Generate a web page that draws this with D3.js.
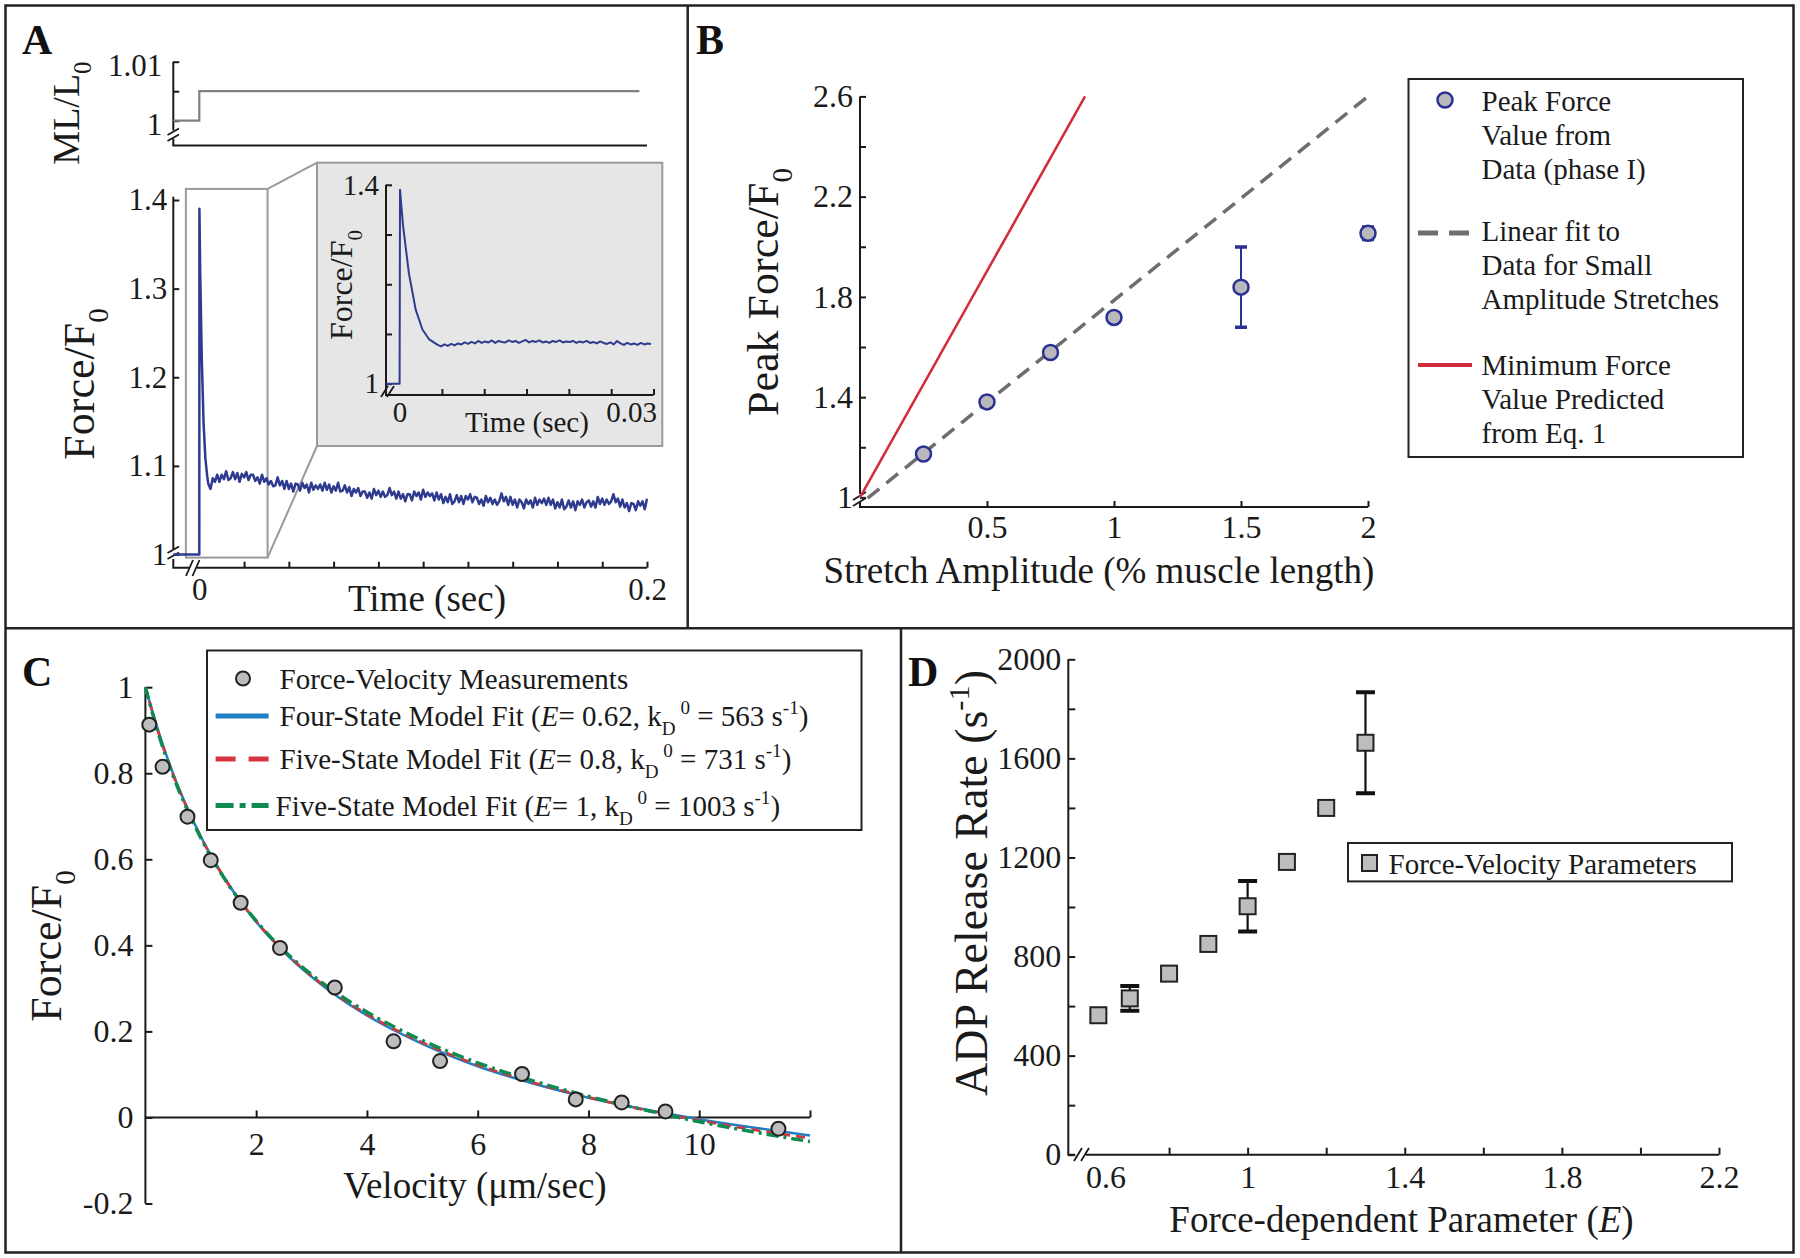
<!DOCTYPE html>
<html>
<head>
<meta charset="utf-8">
<script src="https://cdn.jsdelivr.net/npm/d3@7"></script>
<style>
html,body{margin:0;padding:0;background:#fff;}
svg{display:block;}
</style>
</head>
<body>
<svg id="chart" width="1800" height="1258"></svg>
<script>
// ================= DATA =================
// ---- Panel A: muscle length step and force transient ----
const stepTime = [-0.0116, 0, 0, 0.1966];
const stepLength = [1, 1, 1.005, 1.005];
const riseTime = [-0.0116, 0, 0.00005, 0.0004, 0.0011, 0.0019, 0.0027, 0.0035];
const riseForce = [1, 1, 1.39, 1.319, 1.222, 1.149, 1.109, 1.089];
const traceStart = 0.004;
const traceStep = 0.001;
const forceTrace = [
1.080,1.074,1.086,1.082,1.090,1.082,1.090,1.085,1.094,1.084,
1.086,1.093,1.085,1.092,1.082,1.091,1.087,1.093,1.084,1.090,
1.090,1.083,1.087,1.080,1.090,1.082,1.086,1.079,1.083,1.077,
1.078,1.087,1.078,1.083,1.074,1.083,1.074,1.080,1.071,1.080,
1.079,1.072,1.081,1.075,1.079,1.070,1.081,1.073,1.078,1.074,
1.079,1.072,1.081,1.073,1.079,1.070,1.077,1.072,1.081,1.071,
1.072,1.078,1.070,1.076,1.066,1.074,1.070,1.075,1.066,1.071,
1.071,1.064,1.070,1.063,1.074,1.067,1.072,1.065,1.071,1.065,
1.067,1.075,1.067,1.071,1.063,1.071,1.063,1.068,1.060,1.068,
1.068,1.061,1.071,1.066,1.070,1.062,1.073,1.065,1.070,1.066,
1.069,1.061,1.070,1.062,1.068,1.058,1.065,1.059,1.068,1.057,
1.060,1.067,1.059,1.066,1.057,1.066,1.062,1.068,1.059,1.065,
1.064,1.057,1.062,1.055,1.066,1.059,1.064,1.057,1.062,1.056,
1.060,1.069,1.060,1.065,1.056,1.065,1.056,1.062,1.053,1.062,
1.059,1.052,1.062,1.057,1.061,1.053,1.064,1.056,1.062,1.058,
1.063,1.056,1.064,1.056,1.062,1.052,1.059,1.053,1.062,1.051,
1.054,1.061,1.053,1.060,1.050,1.060,1.056,1.062,1.053,1.059,
1.061,1.054,1.060,1.053,1.065,1.057,1.063,1.056,1.062,1.057,
1.060,1.068,1.059,1.063,1.054,1.062,1.053,1.058,1.049,1.058,
1.057,1.050,1.060,1.055,1.060,1.051,1.063];
const insetStart = 0.0045;
const insetStep = 0.0004;
const insetTrace = [
1.078,1.075,1.079,1.076,1.080,1.077,1.081,1.079,1.083,1.080,
1.084,1.081,1.086,1.082,1.085,1.083,1.087,1.082,1.086,1.084,
1.083,1.087,1.084,1.086,1.082,1.085,1.088,1.083,1.086,1.084,
1.087,1.083,1.085,1.082,1.086,1.084,1.087,1.083,1.085,1.084,
1.086,1.082,1.085,1.083,1.086,1.082,1.084,1.081,1.085,1.082,
1.080,1.083,1.079,1.086,1.081,1.078,1.082,1.079,1.081,1.078,
1.082,1.079,1.081,1.080];
const aTopTicks = [1, 1.005, 1.01];
const aTopLabels = [1, 1.01];
const aTicksY = [1, 1.1, 1.2, 1.3, 1.4];
const aTicksX = [0.02, 0.04, 0.06, 0.08, 0.1, 0.12, 0.14, 0.16, 0.18, 0.2];
const aLabelsX = [0, 0.2];
const insetTicksY = [1, 1.1, 1.2, 1.3, 1.4];
const insetLabelsY = [1, 1.4];
const insetTicksX = [0.005, 0.01, 0.015, 0.02, 0.025, 0.03];
const insetLabelsX = [0, 0.03];

// ---- Panel B: peak force vs stretch amplitude ----
const stretchAmp = [0.25, 0.5, 0.75, 1, 1.5, 2];
const peakForce = [1.173, 1.381, 1.578, 1.718, 1.839, 2.054];
const peakForceErr = [0, 0, 0, 0, 0.16, 0.025];
const linearFitX = [0.03, 2];
const linearFitY = [0.997, 2.6];
const minForceX = [0, 0.886];
const minForceY = [1, 2.6];
const bTicksY = [1, 1.2, 1.4, 1.6, 1.8, 2.0, 2.2, 2.4, 2.6];
const bLabelsY = [1, 1.4, 1.8, 2.2, 2.6];
const bTicksX = [0.5, 1, 1.5, 2];
const bLegendText = [
  ["Peak Force", "Value from", "Data (phase I)"],
  ["Linear fit to", "Data for Small", "Amplitude Stretches"],
  ["Minimum Force", "Value Predicted", "from Eq. 1"]];

// ---- Panel C: force-velocity ----
const velocity = [0.07, 0.31, 0.76, 1.18, 1.72, 2.43, 3.42, 4.48, 5.32, 6.80, 7.77, 8.60, 9.39, 11.43];
const forceFV = [0.913, 0.815, 0.699, 0.598, 0.499, 0.394, 0.302, 0.177, 0.131, 0.101, 0.042, 0.035, 0.014, -0.026];
const fitVelocity = [0, 0.25, 0.5, 0.75, 1, 1.5, 2, 2.5, 3, 3.5, 4, 5, 6, 7, 8, 9, 10, 11, 12];
const fourStateFit = [1.0, 0.891, 0.799, 0.721, 0.653, 0.542, 0.455, 0.385, 0.327, 0.278, 0.237, 0.171, 0.119, 0.079, 0.046, 0.019, -0.004, -0.024, -0.042];
const fiveStateFitE08 = [1.0, 0.889, 0.797, 0.720, 0.652, 0.542, 0.456, 0.386, 0.329, 0.281, 0.240, 0.174, 0.122, 0.081, 0.047, 0.018, -0.007, -0.029, -0.048];
const fiveStateFitE1 = [1.0, 0.886, 0.794, 0.717, 0.650, 0.541, 0.457, 0.388, 0.332, 0.285, 0.245, 0.179, 0.127, 0.085, 0.049, 0.018, -0.010, -0.034, -0.056];
const cTicksY = [-0.2, 0, 0.2, 0.4, 0.6, 0.8, 1];
const cTicksX = [2, 4, 6, 8, 10, 12];
const cLabelsX = [2, 4, 6, 8, 10];
const cLegendE = ["0.62", "0.8", "1"];
const cLegendK = ["563", "731", "1003"];
const cLegendModel = ["Four-State Model Fit (", "Five-State Model Fit (", "Five-State Model Fit ("];

// ---- Panel D: ADP release rate vs E ----
const paramE = [0.62, 0.7, 0.8, 0.9, 1.0, 1.1, 1.2, 1.3];
const adpRate = [563, 631, 731, 851, 1003, 1182, 1400, 1663];
const adpErr = [0, 50, 0, 0, 102, 0, 0, 204];
const dTicksY = [0, 200, 400, 600, 800, 1000, 1200, 1400, 1600, 1800, 2000];
const dLabelsY = [0, 400, 800, 1200, 1600, 2000];
const dTicksX = [0.8, 1, 1.2, 1.4, 1.6, 1.8, 2, 2.2];
const dLabelsX = [0.6, 1, 1.4, 1.8, 2.2];

// ================= DRAWING =================
const SERIF = "'Liberation Serif','Times New Roman',serif";
const INK = "#1a1a1a";
const svg = d3.select("#chart");
svg.append("rect").attr("width", 1800).attr("height", 1258).attr("fill", "#fff");
const defs = svg.append("defs");

function styleAxis(g, fs) {
  g.attr("font-family", null).attr("font-size", null);
  g.select(".domain").remove();
  g.selectAll("text").attr("font-family", SERIF).attr("font-size", fs).attr("fill", INK);
  g.selectAll("line").attr("stroke", INK).attr("stroke-width", 2);
  return g;
}
function yTicks(parent, scale, x, vals, len) {
  return styleAxis(parent.append("g").attr("transform", `translate(${x},0)`)
    .call(d3.axisLeft(scale).tickValues(vals).tickSize(-len).tickSizeOuter(0).tickFormat("")), 10);
}
function yLabels(parent, scale, x, vals, pad, fs) {
  return styleAxis(parent.append("g").attr("transform", `translate(${x},0)`)
    .call(d3.axisLeft(scale).tickValues(vals).tickSize(0).tickPadding(pad).tickFormat(d => String(d))), fs);
}
function xTicks(parent, scale, y, vals, len) {
  return styleAxis(parent.append("g").attr("transform", `translate(0,${y})`)
    .call(d3.axisBottom(scale).tickValues(vals).tickSize(-len).tickSizeOuter(0).tickFormat("")), 10);
}
function xLabels(parent, scale, y, vals, pad, fs) {
  return styleAxis(parent.append("g").attr("transform", `translate(0,${y})`)
    .call(d3.axisBottom(scale).tickValues(vals).tickSize(0).tickPadding(pad).tickFormat(d => String(d))), fs);
}
function pathLine(parent, d, color, w) {
  return parent.append("path").attr("d", d).attr("fill", "none").attr("stroke", color || INK)
    .attr("stroke-width", w || 2);
}
function breakMarks(parent, pairs) {
  pairs.forEach(p => parent.append("line").attr("x1", p[0]).attr("y1", p[1]).attr("x2", p[2]).attr("y2", p[3])
    .attr("stroke", INK).attr("stroke-width", 1.8));
}
function rich(sel, parts, size) {
  sel.style("white-space", "pre");
  let cur = 0;
  parts.forEach(p => {
    const target = p.sub ? size * 0.32 : (p.sup ? -size * 0.4 : 0);
    const ts = sel.append("tspan").attr("dy", target - cur)
      .attr("font-size", (p.sub || p.sup) ? size * 0.66 : size).text(p.t);
    if (p.i) ts.attr("font-style", "italic");
    cur = target;
  });
  return sel;
}
function rotLabel(parent, x, y, parts, size, family) {
  const t = parent.append("text").attr("transform", `translate(${x},${y}) rotate(-90)`)
    .attr("text-anchor", "middle").attr("font-family", family || SERIF).attr("fill", INK);
  return rich(t, parts, size);
}
function hLabel(parent, x, y, parts, size, anchor) {
  const t = parent.append("text").attr("x", x).attr("y", y)
    .attr("text-anchor", anchor || "middle").attr("font-family", SERIF).attr("fill", INK);
  return rich(t, parts, size);
}

// ---- frame ----
const frame = svg.append("g");
frame.append("rect").attr("x", 5.5).attr("y", 5.5).attr("width", 1788).attr("height", 1247)
  .attr("fill", "none").attr("stroke", "#222").attr("stroke-width", 2.5);
pathLine(frame, "M687.7,5.5V628.3", "#222", 2.5);
pathLine(frame, "M5.5,628.3H1793.5", "#222", 2.5);
pathLine(frame, "M901,628.3V1252.5", "#222", 2.5);
[["A", 22, 54], ["B", 696, 54], ["C", 22, 686], ["D", 908, 686]].forEach(l =>
  svg.append("text").attr("x", l[1]).attr("y", l[2]).attr("font-family", SERIF).attr("font-weight", "bold")
    .attr("font-size", 42).attr("fill", "#111").text(l[0]));

// ================= PANEL A =================
const gA = svg.append("g");
const xA = d3.scaleLinear().domain([0, 0.2]).range([199.3, 647]);
const yTop = d3.scaleLinear().domain([1, 1.01]).range([120.7, 61.7]);
const yA = d3.scaleLinear().domain([1, 1.4]).range([554.5, 200]);

// top: muscle length
pathLine(gA, "M173.3,61.7V130.5");
pathLine(gA, "M173.3,138.5V145.4H647");
breakMarks(gA, [[167.5, 135, 179, 128.5], [167.5, 141, 179, 134.5]]);
yTicks(gA, yTop, 173.3, aTopTicks, 6);
yLabels(gA, yTop, 173.3, aTopLabels, 11, 31).selectAll("text").attr("dy", "0.45em");
const stepPts = stepTime.map((t, i) => [t, stepLength[i]]);
gA.append("path").datum(stepPts).attr("d", d3.line().x(d => xA(d[0])).y(d => yTop(d[1])))
  .attr("fill", "none").attr("stroke", "#808080").attr("stroke-width", 2.2);
rotLabel(gA, 79, 113, [{t: "ML/L"}, {t: "0", sub: true}], 38);

// main force trace axes
pathLine(gA, "M173.3,196.7V549");
pathLine(gA, "M173.3,559V567.7H189");
pathLine(gA, "M197,567.7H647");
breakMarks(gA, [[167.5, 553, 179, 546.5], [167.5, 559, 179, 552.5], [186, 576, 193, 560], [192.5, 576, 199.5, 560]]);
yTicks(gA, yA, 173.3, aTicksY, 6);
yLabels(gA, yA, 173.3, aTicksY, 6, 31);
xTicks(gA, xA, 567.7, aTicksX, 6);
xLabels(gA, xA, 567.7, aLabelsX, 10, 31);
rotLabel(gA, 94, 384, [{t: "Force/F"}, {t: "0", sub: true}], 44);
hLabel(gA, 427, 611, [{t: "Time (sec)"}], 37);

// zoom rectangle + connectors + inset box
const rx0 = xA(-0.006), rx1 = xA(0.0305), ry0 = yA(1.4125), ry1 = yA(0.9965);
gA.append("rect").attr("x", rx0).attr("y", ry0).attr("width", rx1 - rx0).attr("height", ry1 - ry0)
  .attr("fill", "none").attr("stroke", "#9a9a9a").attr("stroke-width", 2);
const insetBox = {x0: 317, y0: 162.7, x1: 662.3, y1: 446};
pathLine(gA, `M${rx1},${ry0}L${insetBox.x0},${insetBox.y0}`, "#9a9a9a", 2);
pathLine(gA, `M${rx1},${ry1}L${insetBox.x0},${insetBox.y1}`, "#9a9a9a", 2);

// main trace
const tracePts = riseTime.map((t, i) => [t, riseForce[i]])
  .concat(forceTrace.map((v, i) => [traceStart + i * traceStep, v]));
gA.append("path").datum(tracePts).attr("d", d3.line().x(d => xA(d[0])).y(d => yA(d[1])))
  .attr("fill", "none").attr("stroke", "#2e3b8e").attr("stroke-width", 2.5).attr("stroke-linejoin", "round");

// inset
const gI = svg.append("g");
gI.append("rect").attr("x", insetBox.x0).attr("y", insetBox.y0)
  .attr("width", insetBox.x1 - insetBox.x0).attr("height", insetBox.y1 - insetBox.y0)
  .attr("fill", "#e6e6e6").attr("stroke", "#9a9a9a").attr("stroke-width", 2);
const xI = d3.scaleLinear().domain([0, 0.03]).range([399.6, 653.5]);
const yI = d3.scaleLinear().domain([1, 1.4]).range([383.7, 184.8]);
pathLine(gI, "M386,184.8V395H653.5");
breakMarks(gI, [[381, 397, 388, 386], [387, 397, 394, 386]]);
yTicks(gI, yI, 386, insetTicksY, 6);
yLabels(gI, yI, 386, insetLabelsY, 7, 29);
xTicks(gI, xI, 395, insetTicksX, 6);
const inX = xLabels(gI, xI, 395, insetLabelsX, 6, 29);
inX.selectAll(".tick text").filter(d => d === 0.03).attr("text-anchor", "end").attr("dx", 3);
defs.append("clipPath").attr("id", "insetClip").append("rect").attr("x", 386).attr("y", 170)
  .attr("width", 270).attr("height", 225);
const insetPts = riseTime.map((t, i) => [t, riseForce[i]])
  .concat(insetTrace.map((v, i) => [insetStart + i * insetStep, v]));
gI.append("path").datum(insetPts).attr("clip-path", "url(#insetClip)")
  .attr("d", d3.line().x(d => xI(d[0])).y(d => yI(d[1])))
  .attr("fill", "none").attr("stroke", "#2e3b8e").attr("stroke-width", 2).attr("stroke-linejoin", "round");
rotLabel(gI, 352, 285, [{t: "Force/F"}, {t: "0", sub: true}], 32);
hLabel(gI, 527, 432, [{t: "Time (sec)"}], 29);

// ================= PANEL B =================
const gB = svg.append("g");
const xB = d3.scaleLinear().domain([0, 2]).range([860, 1368]);
const yB = d3.scaleLinear().domain([1, 2.6]).range([497.4, 96.4]);
pathLine(gB, "M860,96.4V494");
pathLine(gB, "M860,502V507H1368");
breakMarks(gB, [[853, 500, 866, 492], [853, 506, 866, 498]]);
yTicks(gB, yB, 860, bTicksY, 6);
yLabels(gB, yB, 860, bLabelsY, 7, 32);
xTicks(gB, xB, 507, bTicksX, 6);
xLabels(gB, xB, 507, bTicksX, 8, 32);

const lineB = d3.line().x(d => xB(d[0])).y(d => yB(d[1]));
gB.append("path").datum(minForceX.map((x, i) => [x, minForceY[i]])).attr("d", lineB)
  .attr("fill", "none").attr("stroke", "#d22b3b").attr("stroke-width", 2.5);
gB.append("path").datum(linearFitX.map((x, i) => [x, linearFitY[i]])).attr("d", lineB)
  .attr("fill", "none").attr("stroke", "#6e6e6e").attr("stroke-width", 3.5).attr("stroke-dasharray", "15,9");
const BLUE_DOT = "#2b3191";
stretchAmp.forEach((a, i) => {
  const e = peakForceErr[i];
  if (e > 0) {
    const x = xB(a), y0 = yB(peakForce[i] - e), y1 = yB(peakForce[i] + e);
    pathLine(gB, `M${x},${y0}V${y1}`, BLUE_DOT, 2);
    pathLine(gB, `M${x - 6},${y0}H${x + 6}M${x - 6},${y1}H${x + 6}`, BLUE_DOT, 3.5);
  }
});
gB.selectAll("circle.pt").data(stretchAmp).enter().append("circle")
  .attr("cx", d => xB(d)).attr("cy", (d, i) => yB(peakForce[i])).attr("r", 7.5)
  .attr("fill", "#b9b9bd").attr("stroke", BLUE_DOT).attr("stroke-width", 2.5);
rotLabel(gB, 778, 292, [{t: "Peak Force/F"}, {t: "0", sub: true}], 44);
hLabel(gB, 1099, 583, [{t: "Stretch Amplitude (% muscle length)"}], 37);

// legend B
gB.append("rect").attr("x", 1408.5).attr("y", 79).attr("width", 334.5).attr("height", 378)
  .attr("fill", "#fff").attr("stroke", "#222").attr("stroke-width", 2);
gB.append("circle").attr("cx", 1445).attr("cy", 100).attr("r", 7.5)
  .attr("fill", "#b9b9bd").attr("stroke", BLUE_DOT).attr("stroke-width", 2.5);
pathLine(gB, "M1418,233H1469", "#6e6e6e", 5).attr("stroke-dasharray", "20,11");
pathLine(gB, "M1418,365H1472", "#d22b3b", 4);
const bLegBase = [110.5, 241, 375];
bLegendText.forEach((lines, k) => lines.forEach((s, j) =>
  gB.append("text").attr("x", 1481.5).attr("y", bLegBase[k] + j * 34).attr("font-family", SERIF)
    .attr("font-size", 29).attr("fill", INK).text(s)));

// ================= PANEL C =================
const gC = svg.append("g");
const xC = d3.scaleLinear().domain([0, 12]).range([145.4, 810]);
const yC = d3.scaleLinear().domain([-0.2, 1]).range([1203.5, 687.2]);
pathLine(gC, `M145.4,687.2V1203.5`);
pathLine(gC, `M145.4,${yC(0)}H810`);
yTicks(gC, yC, 145.4, cTicksY, 7);
yLabels(gC, yC, 145.4, cTicksY, 12, 32);
xTicks(gC, xC, yC(0), cTicksX, 7);
xLabels(gC, xC, yC(0), cLabelsX, 15, 32);

const COL_BLUE = "#1f7fc4", COL_RED = "#d6343f", COL_GREEN = "#0e8b50";
const lineC = d3.line().x(d => xC(d[0])).y(d => yC(d[1])).curve(d3.curveMonotoneX);
gC.append("path").datum(fitVelocity.map((v, i) => [v, fourStateFit[i]])).attr("d", lineC)
  .attr("fill", "none").attr("stroke", COL_BLUE).attr("stroke-width", 2.5);
gC.append("path").datum(fitVelocity.map((v, i) => [v, fiveStateFitE08[i]])).attr("d", lineC)
  .attr("fill", "none").attr("stroke", COL_RED).attr("stroke-width", 2.8).attr("stroke-dasharray", "9,6");
gC.append("path").datum(fitVelocity.map((v, i) => [v, fiveStateFitE1[i]])).attr("d", lineC)
  .attr("fill", "none").attr("stroke", COL_GREEN).attr("stroke-width", 3.5).attr("stroke-dasharray", "12,5,3,5");
gC.selectAll("circle.pt").data(velocity).enter().append("circle")
  .attr("cx", d => xC(d)).attr("cy", (d, i) => yC(forceFV[i])).attr("r", 7)
  .attr("fill", "#bdbdbd").attr("stroke", "#222").attr("stroke-width", 2);
rotLabel(gC, 61, 946, [{t: "Force/F"}, {t: "0", sub: true}], 44);
hLabel(gC, 475, 1198, [{t: "Velocity (μm/sec)"}], 37);

// legend C
gC.append("rect").attr("x", 207).attr("y", 650.5).attr("width", 654.5).attr("height", 179.5)
  .attr("fill", "#fff").attr("stroke", "#222").attr("stroke-width", 2);
const cRowY = [678.5, 716, 759, 805.5];
gC.append("circle").attr("cx", 243).attr("cy", cRowY[0]).attr("r", 7)
  .attr("fill", "#bdbdbd").attr("stroke", "#222").attr("stroke-width", 2);
hLabel(gC, 279.5, cRowY[0] + 10, [{t: "Force-Velocity Measurements"}], 29, "start");
pathLine(gC, `M215.6,${cRowY[1]}H268.6`, COL_BLUE, 5);
pathLine(gC, `M215.6,${cRowY[2]}H268.6`, COL_RED, 5).attr("stroke-dasharray", "20,13");
pathLine(gC, `M215.6,${cRowY[3]}H268.6`, COL_GREEN, 5).attr("stroke-dasharray", "18,6,6,6");
[0, 1, 2].forEach(k => {
  hLabel(gC, k === 2 ? 275.5 : 279.5, cRowY[k + 1] + 10, [
    {t: cLegendModel[k]}, {t: "E", i: true}, {t: "= " + cLegendE[k] + ", k"}, {t: "D", sub: true},
    {t: " 0", sup: true}, {t: " = " + cLegendK[k] + " s"}, {t: "-1", sup: true}, {t: ")"}], 29, "start");
});

// ================= PANEL D =================
const gD = svg.append("g");
const xD = d3.scaleLinear().domain([0.6, 2.2]).range([1090.5, 1719]);
const yD = d3.scaleLinear().domain([0, 2000]).range([1154.7, 659.3]);
pathLine(gD, "M1068.3,659.3V1154.7H1075");
pathLine(gD, "M1086,1154.7H1719");
breakMarks(gD, [[1074, 1161, 1082, 1148], [1081, 1161, 1089, 1148]]);
yTicks(gD, yD, 1068.3, dTicksY, 7);
yLabels(gD, yD, 1068.3, dLabelsY, 7, 32);
xTicks(gD, xD, 1154.7, dTicksX, 7);
const dX = xLabels(gD, xD, 1154.7, dLabelsX, 11, 32);
dX.selectAll(".tick text").filter(d => d === 0.6).attr("dx", 15);

paramE.forEach((e, i) => {
  const er = adpErr[i];
  if (er > 0) {
    const x = xD(e), y0 = yD(adpRate[i] - er), y1 = yD(adpRate[i] + er);
    pathLine(gD, `M${x},${y0}V${y1}`, "#111", 2.2);
    pathLine(gD, `M${x - 9.5},${y0}H${x + 9.5}M${x - 9.5},${y1}H${x + 9.5}`, "#111", 4);
  }
});
gD.selectAll("rect.pt").data(paramE).enter().append("rect")
  .attr("x", d => xD(d) - 8).attr("y", (d, i) => yD(adpRate[i]) - 8).attr("width", 16).attr("height", 16)
  .attr("fill", "#bdbdbd").attr("stroke", "#222").attr("stroke-width", 2);
rotLabel(gD, 987, 883, [{t: "ADP Release Rate (s"}, {t: "-1", sup: true}, {t: ")"}], 46);
hLabel(gD, 1401.5, 1232, [{t: "Force-dependent Parameter ("}, {t: "E", i: true}, {t: ")"}], 37);

// legend D
gD.append("rect").attr("x", 1348).attr("y", 843).attr("width", 384).attr("height", 38.4)
  .attr("fill", "#fff").attr("stroke", "#222").attr("stroke-width", 2);
gD.append("rect").attr("x", 1362).attr("y", 855).attr("width", 15).attr("height", 16)
  .attr("fill", "#bdbdbd").attr("stroke", "#222").attr("stroke-width", 2);
hLabel(gD, 1388.5, 873.5, [{t: "Force-Velocity Parameters"}], 29, "start");
</script>
</body>
</html>
